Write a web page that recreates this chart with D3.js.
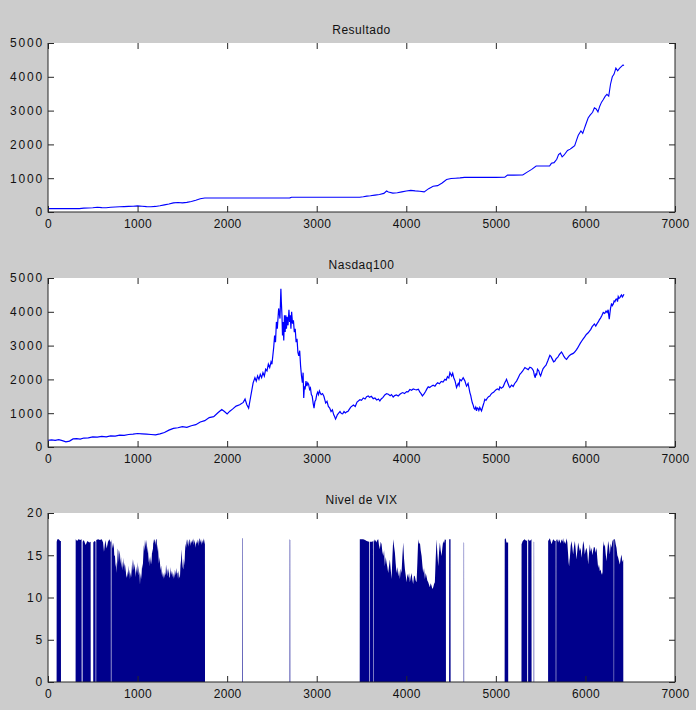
<!DOCTYPE html>
<html><head><meta charset="utf-8">
<script src="https://cdn.jsdelivr.net/npm/d3@7"></script>
<style>
html,body{margin:0;padding:0;background:#cccccc;}
svg{display:block;}
text{font-family:"Liberation Sans",Arial,Helvetica,sans-serif;}
</style></head><body>
<svg id="chart" width="696" height="710"></svg>
<script>
// ---------- data ----------
const xTicks = [0, 1000, 2000, 3000, 4000, 5000, 6000, 7000];
const priceTicks = [0, 1000, 2000, 3000, 4000, 5000];
const vixTicks = [0, 5, 10, 15, 20];
const titles = ["Resultado", "Nasdaq100", "Nivel de VIX"];

// Resultado: [day index, value]
const resultado = [
[0,100],[100,100],[200,100],[300,100],[350,100],[400,115],[450,120],[500,125],[550,140],[600,130],
[650,125],[700,140],[750,150],[800,155],[850,160],[900,165],[950,170],[1000,180],[1050,170],[1100,160],
[1150,155],[1200,165],[1250,185],[1300,210],[1350,235],[1400,270],[1450,280],[1500,270],[1550,285],[1600,310],
[1650,345],[1700,390],[1750,415],[1800,415],[2000,415],[2200,415],[2400,415],[2600,415],[2700,418],[2720,435],
[3000,435],[3200,435],[3400,435],[3480,435],[3520,450],[3560,470],[3600,480],[3650,500],[3700,520],[3750,550],
[3780,620],[3800,590],[3850,560],[3900,570],[3950,595],[4000,620],[4050,640],[4100,625],[4150,615],[4200,595],
[4250,690],[4300,760],[4350,780],[4400,860],[4450,960],[4500,990],[4550,1000],[4600,1010],[4650,1025],[4800,1025],
[5000,1025],[5100,1030],[5130,1090],[5200,1090],[5300,1095],[5350,1180],[5400,1260],[5450,1360],[5500,1360],[5600,1360],
[5620,1440],[5650,1460],[5680,1560],[5700,1700],[5720,1740],[5740,1630],[5760,1680],[5800,1820],[5830,1860],[5850,1900],
[5880,1960],[5900,2120],[5920,2270],[5950,2400],[5970,2330],[5990,2480],[6000,2560],[6030,2780],[6050,2860],[6080,2950],
[6100,3080],[6120,3050],[6140,2960],[6160,3130],[6180,3250],[6200,3330],[6220,3420],[6240,3480],[6260,3430],[6280,3780],
[6300,4000],[6320,4080],[6340,4260],[6360,4180],[6380,4250],[6400,4300],[6420,4350],[6430,4330]
];

// Nasdaq100: [day index, value]
const nasdaq = [
[0,200],[40,210],[80,195],[120,215],[160,190],[200,155],[240,175],[280,240],[320,250],[360,235],
[400,265],[450,270],[500,300],[550,290],[600,315],[650,300],[700,330],[750,320],[800,350],[850,345],
[900,370],[950,380],[1000,400],[1050,390],[1100,380],[1150,370],[1200,360],[1250,390],[1300,430],[1350,500],
[1400,550],[1450,570],[1500,600],[1550,580],[1600,630],[1650,660],[1700,740],[1750,780],[1800,870],[1850,900],
[1900,1020],[1940,1110],[1970,1050],[2000,980],[2030,1060],[2060,1120],[2100,1210],[2140,1250],[2180,1320],[2200,1420],
[2220,1250],[2240,1150],[2260,1450],[2290,1900],[2310,2050],[2325,1950],[2340,2100],[2355,2000],[2370,2150],[2385,2050],
[2400,2200],[2415,2100],[2430,2300],[2445,2250],[2460,2450],[2475,2350],[2490,2520],[2500,2450],[2510,2700],[2520,2950],
[2530,3300],[2540,3100],[2550,3700],[2560,3500],[2575,4100],[2590,3800],[2600,4680],[2605,4300],[2612,3900],[2618,3300],
[2625,3700],[2632,3150],[2640,3900],[2648,3400],[2655,3900],[2662,3500],[2670,3850],[2680,3600],[2690,4060],[2698,3700],
[2705,3900],[2712,3500],[2720,4000],[2730,3650],[2740,3750],[2750,3400],[2760,3500],[2770,3100],[2780,3200],[2790,2800],
[2800,2700],[2810,2850],[2820,2400],[2830,2100],[2840,1900],[2848,2200],[2855,1450],[2862,1800],[2870,1700],[2880,1950],
[2890,1800],[2900,1900],[2910,1850],[2920,1700],[2930,1750],[2940,1550],[2950,1500],[2960,1300],[2970,1150],[2980,1350],
[2990,1400],[3000,1550],[3010,1620],[3020,1550],[3030,1660],[3040,1600],[3050,1550],[3065,1580],[3080,1500],[3090,1400],
[3100,1300],[3115,1350],[3130,1200],[3145,1150],[3160,1050],[3175,1100],[3190,950],[3200,900],[3210,830],[3220,880],
[3230,950],[3245,1000],[3260,1050],[3275,990],[3290,980],[3305,1050],[3320,1010],[3335,1040],[3350,1060],[3380,1180],
[3410,1240],[3430,1200],[3450,1330],[3482,1400],[3500,1380],[3520,1450],[3540,1420],[3557,1490],[3575,1510],[3590,1470],
[3610,1500],[3631,1430],[3650,1450],[3670,1390],[3690,1420],[3705,1360],[3720,1420],[3740,1470],[3760,1540],[3780,1580],
[3800,1560],[3820,1520],[3835,1550],[3854,1480],[3870,1520],[3890,1540],[3910,1510],[3929,1560],[3945,1590],[3960,1610],
[3980,1580],[4003,1640],[4020,1630],[4040,1700],[4060,1680],[4077,1720],[4095,1700],[4115,1690],[4135,1710],[4152,1620],
[4165,1580],[4180,1510],[4200,1580],[4215,1640],[4230,1720],[4245,1780],[4262,1760],[4280,1800],[4300,1830],[4320,1800],
[4335,1860],[4350,1900],[4370,1870],[4390,1940],[4410,1920],[4431,2000],[4445,1980],[4460,2080],[4475,2040],[4487,2200],
[4496,2150],[4506,2100],[4518,2180],[4530,2050],[4545,1950],[4561,1760],[4570,1820],[4580,1880],[4590,1820],[4598,2000],
[4615,1960],[4635,2050],[4645,2000],[4655,1950],[4665,1860],[4673,1800],[4690,1880],[4710,1610],[4720,1520],[4728,1410],
[4738,1300],[4747,1240],[4756,1150],[4765,1120],[4775,1180],[4784,1070],[4792,1160],[4800,1150],[4810,1080],[4821,1170],
[4830,1120],[4840,1070],[4850,1160],[4860,1250],[4868,1320],[4877,1410],[4890,1380],[4905,1450],[4918,1490],[4933,1510],
[4945,1560],[4960,1600],[4975,1620],[4989,1660],[5005,1700],[5020,1720],[5035,1690],[5045,1780],[5060,1740],[5082,1780],
[5092,1850],[5100,1900],[5110,1950],[5119,2000],[5130,1920],[5140,1850],[5148,1790],[5156,1760],[5175,1830],[5193,1790],
[5210,1880],[5231,1950],[5250,2050],[5268,2150],[5285,2200],[5300,2250],[5312,2300],[5324,2350],[5340,2320],[5361,2290],
[5380,2360],[5398,2340],[5410,2300],[5420,2250],[5430,2120],[5440,2050],[5447,2180],[5454,2120],[5465,2300],[5480,2250],
[5490,2150],[5500,2100],[5515,2230],[5528,2320],[5545,2380],[5560,2420],[5580,2550],[5603,2710],[5615,2680],[5630,2600],
[5645,2520],[5659,2540],[5675,2620],[5690,2650],[5710,2740],[5733,2810],[5745,2760],[5760,2680],[5775,2620],[5789,2590],
[5805,2650],[5820,2700],[5840,2740],[5864,2770],[5880,2810],[5901,2880],[5915,2940],[5930,3010],[5945,3080],[5957,3130],
[5975,3200],[5990,3250],[6010,3330],[6031,3380],[6045,3430],[6060,3480],[6075,3560],[6087,3600],[6100,3640],[6115,3580],
[6130,3650],[6143,3700],[6155,3760],[6170,3820],[6185,3900],[6199,3980],[6215,3950],[6230,4020],[6242,3980],[6254,4060],
[6260,3900],[6266,3780],[6273,3950],[6280,4100],[6292,4250],[6300,4180],[6310,4220],[6320,4320],[6329,4300],[6340,4370],
[6350,4380],[6358,4300],[6366,4450],[6375,4400],[6385,4420],[6395,4470],[6403,4500],[6412,4440],[6422,4480],[6430,4520]
];

// Nivel de VIX: [day index, level] (0 where no bar)
const vix = [
[0,0],[96,0],[97,16.6],[105,16.9],[120,16.9],[135,16.7],[144,16.7],[145,0],
[308,0],[309,16.9],[325,16.7],[340,16.9],[360,16.8],[375,16.9],[376,0],[386,0],[387,16.6],[400,16.8],[420,16.2],[440,16.7],[460,16.5],[476,16.6],[477,0],
[505,0],[506,16.5],[520,16.7],[531,16.6],[532,0],[538,0],[539,16.8],[560,16.9],[580,16.8],[600,16.9],[615,16.5],[625,15.4],[640,16.8],[655,15.8],[670,16.6],[685,16.9],[701,16.5],[702,0],[708,0],
[709,16.9],[718,16.2],[725,15.8],[733,16.5],[740,15.0],[748,14.9],[755,13.6],[762,14.2],[766,12.9],[772,14.0],[779,15.8],[785,15.5],[792,14.2],[798,15.6],[804,15.1],[810,14.0],[816,14.8],[822,13.5],[828,14.3],[835,13.2],[841,14.7],[847,13.6],[854,14.1],[860,13.0],[866,13.9],[872,12.6],[878,12.3],[884,13.1],[891,12.4],[897,13.8],[903,12.7],[909,13.3],[915,12.2],[922,13.0],[928,12.4],[935,13.4],[941,14.6],[946,13.1],[952,14.5],[958,13.2],[964,14.0],[970,13.5],[977,12.4],[983,13.6],[990,12.9],[996,14.2],[1002,12.8],[1008,13.8],[1014,12.6],[1020,13.1],[1027,11.5],[1033,12.9],[1039,12.2],[1045,12.8],[1051,14.0],[1057,13.4],[1064,14.9],[1070,16.2],[1076,15.5],[1083,16.9],[1089,16.0],[1095,16.8],[1101,16.3],[1108,15.2],[1114,16.1],[1120,15.0],[1126,14.1],[1132,14.8],[1138,13.7],[1145,14.9],[1151,13.9],[1157,14.5],[1163,15.8],[1170,15.2],[1176,16.9],[1182,16.4],[1189,16.9],[1195,16.8],[1201,16.2],[1207,16.9],[1213,16.9],[1219,15.4],[1226,16.3],[1232,15.2],[1238,14.0],[1244,14.8],[1250,14.1],[1257,13.2],[1263,13.8],[1269,13.0],[1275,12.4],[1281,13.1],[1287,12.2],[1293,12.9],[1299,12.3],[1305,13.0],[1312,12.6],[1318,13.9],[1324,13.3],[1330,12.5],[1337,13.4],[1343,12.8],[1349,13.5],[1355,12.3],[1362,12.5],[1368,13.6],[1374,12.7],[1380,13.2],[1386,12.4],[1393,13.1],[1399,12.2],[1405,12.9],[1411,12.3],[1417,13.3],[1424,12.6],[1431,13.5],[1438,12.8],[1445,13.0],[1452,12.2],[1459,13.2],[1466,12.5],[1473,12.3],[1479,13.8],[1486,14.5],[1492,15.7],[1498,14.3],[1504,13.6],[1510,13.3],[1517,14.6],[1523,13.8],[1530,15.5],[1536,16.4],[1542,15.9],[1548,16.9],[1554,16.2],[1560,16.9],[1566,16.6],[1572,16.0],[1579,16.8],[1585,16.9],[1591,16.1],[1597,16.7],[1603,16.4],[1609,16.9],[1616,16.5],[1622,17.0],[1628,16.2],[1634,16.8],[1640,16.5],[1646,15.9],[1653,16.6],[1659,16.3],[1665,16.9],[1672,16.4],[1678,16.8],[1684,16.1],[1690,16.9],[1696,17.0],[1702,16.5],[1709,16.9],[1715,16.2],[1721,16.8],[1727,16.4],[1734,17.0],[1740,16.6],[1743,16.3],[1748,16.9],[1752,16.4],[1753,0],
[2166,0],[2167,17.0],[2172,17.0],[2173,0],
[2697,0],[2698,16.9],[2704,16.8],[2705,0],
[3480,0],[3481,16.9],[3500,16.9],[3519,16.9],[3540,16.8],[3557,16.7],[3584,16.6],[3585,0],[3591,0],[3592,16.6],[3620,16.6],[3628,16.7],[3629,0],[3634,0],
[3635,16.6],[3642,16.9],[3650,16.6],[3659,16.8],[3668,16.5],[3677,16.8],[3687,16.9],[3695,16.2],[3705,15.7],[3714,16.6],[3724,16.3],[3733,15.4],[3743,14.9],[3752,15.6],[3761,13.7],[3770,14.8],[3780,14.1],[3789,13.6],[3798,12.9],[3808,13.8],[3817,14.5],[3826,13.3],[3836,12.2],[3845,14.8],[3854,16.9],[3863,16.1],[3873,15.3],[3882,14.0],[3891,12.9],[3900,13.6],[3910,12.5],[3919,13.2],[3929,12.2],[3938,13.4],[3947,12.9],[3956,14.8],[3966,16.5],[3975,14.6],[3985,13.3],[3994,12.6],[4003,11.8],[4012,12.8],[4022,12.3],[4031,12.9],[4040,11.8],[4049,12.4],[4059,12.9],[4068,12.1],[4077,11.6],[4086,12.6],[4096,12.5],[4105,12.0],[4115,11.8],[4124,14.2],[4133,16.9],[4142,16.3],[4152,16.5],[4161,15.6],[4171,14.9],[4180,13.8],[4189,12.9],[4198,13.5],[4208,12.2],[4217,12.9],[4226,12.5],[4235,12.0],[4245,11.8],[4254,11.5],[4263,11.2],[4272,11.7],[4282,11.4],[4291,11.0],[4301,11.2],[4310,11.6],[4319,11.8],[4328,14.5],[4338,16.9],[4347,15.2],[4357,13.7],[4366,15.4],[4375,16.5],[4384,15.6],[4394,14.9],[4403,15.9],[4412,16.7],[4421,16.4],[4431,16.9],[4442,16.8],[4443,0],
[4478,0],[4479,16.9],[4494,16.9],[4495,0],
[4640,0],[4641,16.5],[4645,16.5],[4646,0],
[5098,0],[5099,16.9],[5110,17.0],[5118,16.5],[5137,16.5],[5138,0],
[5286,0],[5287,16.3],[5300,16.7],[5320,16.9],[5340,16.7],[5349,16.8],[5350,0],[5360,0],[5361,16.9],[5380,16.7],[5398,16.9],[5399,0],[5422,0],[5423,16.6],[5427,16.6],[5428,0],
[5583,0],[5584,16.7],[5603,17.0],[5621,16.3],[5640,16.9],[5658,16.7],[5668,16.7],[5669,0],[5674,0],
[5675,16.8],[5685,16.9],[5696,16.5],[5705,16.9],[5714,16.7],[5724,16.4],[5733,16.9],[5742,16.6],[5751,17.0],[5760,16.4],[5770,16.7],[5779,16.3],[5789,17.0],[5798,16.5],[5807,15.1],[5812,14.2],[5818,13.7],[5822,14.4],[5826,14.7],[5835,16.1],[5844,16.7],[5853,16.0],[5863,15.1],[5872,16.0],[5882,16.7],[5891,15.7],[5900,14.5],[5910,15.6],[5919,16.5],[5928,16.0],[5938,15.5],[5947,15.9],[5956,14.7],[5965,15.6],[5975,16.7],[5984,16.2],[5993,15.1],[6002,15.6],[6012,15.9],[6021,15.3],[6031,13.9],[6040,15.2],[6049,16.3],[6058,15.4],[6068,15.9],[6077,15.0],[6086,15.5],[6095,16.0],[6105,15.9],[6114,15.3],[6124,15.9],[6133,14.6],[6142,13.5],[6151,13.9],[6161,13.1],[6170,13.3],[6180,12.7],[6186,13.0],[6191,12.7],[6194,15.0],[6198,16.7],[6207,16.0],[6217,16.3],[6226,15.2],[6235,14.3],[6244,15.5],[6254,16.7],[6263,16.1],[6273,15.1],[6282,16.4],[6291,15.9],[6300,16.6],[6310,16.9],[6315,16.8],[6316,0],[6320,0],[6321,16.9],[6329,16.9],[6338,16.3],[6347,15.9],[6356,15.0],[6366,14.7],[6375,14.3],[6384,13.9],[6393,14.6],[6403,15.1],[6412,14.2],[6422,14.5],[6423,0],
[7000,0]
];

// ---------- layout ----------
const svg = d3.select("#chart");
const left = 48, right = 675, panelTops = [43, 278, 513], panelH = 169;
const x = d3.scaleLinear().domain([0, 7000]).range([left, right]);
const axisColor = "#262626";
const fontSize = 12;

svg.append("rect").attr("width", 696).attr("height", 710).attr("fill", "#cccccc");

function drawPanel(i, yMax, yTicks, draw) {
  const top = panelTops[i], bottom = top + panelH;
  const y = d3.scaleLinear().domain([0, yMax]).range([bottom, top]);
  const g = svg.append("g");
  g.append("rect").attr("x", left).attr("y", top).attr("width", right - left).attr("height", panelH).attr("fill", "#ffffff");
  const clipId = "clip" + i;
  g.append("clipPath").attr("id", clipId).append("rect")
    .attr("x", left).attr("y", top).attr("width", right - left).attr("height", panelH);
  const plot = g.append("g").attr("clip-path", `url(#${clipId})`);
  draw(plot, y);

  const styleAxis = (sel, labels, spacing) => {
    sel.select(".domain").remove();
    sel.selectAll(".tick line").attr("stroke", axisColor).attr("stroke-width", 1);
    sel.selectAll("text").attr("fill", labels ? "#111" : "none")
      .attr("font-size", fontSize).attr("letter-spacing", spacing || 0)
      .attr("font-family", '"Liberation Sans",Arial,sans-serif');
  };
  // bottom axis
  g.append("g").attr("transform", `translate(0,${bottom})`)
    .call(d3.axisBottom(x).tickValues(xTicks).tickSizeInner(-6).tickSizeOuter(0).tickPadding(7).tickFormat(d3.format("d")))
    .call(s => styleAxis(s, true, 0.3));
  // top axis (ticks only)
  g.append("g").attr("transform", `translate(0,${top})`)
    .call(d3.axisTop(x).tickValues(xTicks).tickSizeInner(-6).tickSizeOuter(0).tickFormat(""))
    .call(s => styleAxis(s, false));
  // left axis
  g.append("g").attr("transform", `translate(${left},0)`)
    .call(d3.axisLeft(y).tickValues(yTicks).tickSizeInner(-6).tickSizeOuter(0).tickPadding(4).tickFormat(d3.format("d")))
    .call(s => styleAxis(s, true, 1.8));
  // right axis (ticks only)
  g.append("g").attr("transform", `translate(${right},0)`)
    .call(d3.axisRight(y).tickValues(yTicks).tickSizeInner(-6).tickSizeOuter(0).tickFormat(""))
    .call(s => styleAxis(s, false));

  // box lines
  g.append("line").attr("x1", left).attr("x2", left).attr("y1", top).attr("y2", bottom + 0.5).attr("stroke", axisColor);
  g.append("line").attr("x1", left).attr("x2", right).attr("y1", bottom).attr("y2", bottom).attr("stroke", axisColor);
  g.append("line").attr("x1", right).attr("x2", right).attr("y1", top).attr("y2", bottom + 0.5).attr("stroke", axisColor);

  // title
  g.append("text").attr("x", (left + right) / 2).attr("y", top - 9)
    .attr("text-anchor", "middle").attr("font-size", fontSize).attr("letter-spacing", 0.5)
    .attr("fill", "#111").text(titles[i]);
}

const lineGen = y => d3.line().x(d => x(d[0])).y(d => y(d[1]));

drawPanel(0, 5000, priceTicks, (p, y) => {
  p.append("path").datum(resultado).attr("d", lineGen(y))
    .attr("fill", "none").attr("stroke", "#0000ff").attr("stroke-width", 1.1);
});
drawPanel(1, 5000, priceTicks, (p, y) => {
  p.append("path").datum(nasdaq).attr("d", lineGen(y))
    .attr("fill", "none").attr("stroke", "#0000ff").attr("stroke-width", 1.2);
});
drawPanel(2, 20, vixTicks, (p, y) => {
  const area = d3.area().x(d => x(d[0])).y0(y(0)).y1(d => y(d[1]));
  p.append("path").datum(vix).attr("d", area).attr("fill", "#00008c").attr("stroke", "none");
});
</script>
</body></html>
